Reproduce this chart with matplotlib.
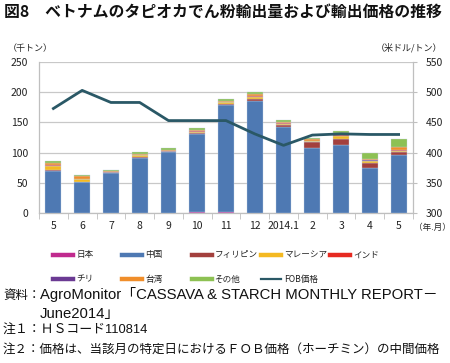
import matplotlib
matplotlib.use("Agg")
import matplotlib.pyplot as plt
from matplotlib.lines import Line2D
import numpy as np

plt.rcParams['font.family'] = ['Noto Sans CJK JP', 'DejaVu Sans']

categories = ['5', '6', '7', '8', '9', '10', '11', '12', '2014.1', '2', '3', '4', '5']
japan       = [0, 0, 0, 0, 0, 1, 1, 0, 0, 0, 0, 0, 0]
china       = [69, 51, 67, 91, 101, 129, 177, 185, 143, 108, 113, 74, 96]
philippines = [3, 1, 1, 2, 2, 2, 3, 4, 3, 9, 9, 8, 5]
malaysia    = [5, 4, 0, 3, 0, 2, 2, 3, 2, 3, 5, 4, 2]
india       = [2, 1, 0, 0, 0, 2, 0, 1, 1, 0, 2, 0, 2]
chile       = [0, 0, 0, 0, 0, 0, 0, 0, 0, 0, 1, 1, 0]
taiwan      = [4, 4, 1, 2, 1, 2, 3, 4, 2, 2, 2, 3, 5]
other       = [3, 2, 2, 3, 3, 3, 3, 4, 3, 3, 3, 9, 12]
fob_price   = [473, 503, 483, 483, 453, 453, 453, 431, 412, 429, 431, 430, 430]

series_names = ['日本', '中国', 'フィリピン', 'マレーシア', 'インド', 'チリ', '台湾', 'その他']
series_vals = [japan, china, philippines, malaysia, india, chile, taiwan, other]
series_colors = ['#C02A8E', '#4E79B3', '#A3403D', '#F4B922', '#E62A21', '#6B3A93', '#F08E2A', '#8DC153']
line_name = 'FOB価格'
line_color = '#2A5866'

W, H = 450, 363
fig = plt.figure(figsize=(W / 100, H / 100), dpi=100)

def fx(px):
    return px / W

def fy(py):
    return 1 - py / H

ax = fig.add_axes([fx(39), fy(213), fx(413) - fx(39), fy(62) - fy(213)])
ax2 = ax.twinx()

x = np.arange(len(categories))
bottom = np.zeros(len(categories))
for name, vals, col in zip(series_names, series_vals, series_colors):
    v = np.array(vals, dtype=float)
    ax.bar(x, v, 0.55, bottom=bottom, color=col, edgecolor='#C5D1E3', linewidth=0.25, zorder=3)
    bottom += v

ax2.plot(x, fob_price, color=line_color, lw=2, zorder=4)

ax.set_xlim(-0.5, len(categories) - 0.5)
ax.set_ylim(0, 250)
ax.set_yticks(range(0, 251, 50))
ax2.set_ylim(300, 550)
ax2.set_yticks(range(300, 551, 50))

ax.yaxis.grid(True, color='#C8C8C8', lw=0.9, zorder=0)
ax.set_axisbelow(True)

ax.set_xticks(x)
ax.set_xticklabels(categories)
ax.set_xticks(np.arange(-0.5, len(categories), 1), minor=True)
ax.tick_params(axis='x', which='major', length=0, pad=6, labelsize=7.5, colors='#222222')
ax.tick_params(axis='x', which='minor', length=4, color='#BFBFBF', direction='out')
ax.tick_params(axis='y', length=0, labelsize=7.5, colors='#222222', pad=8)
ax2.tick_params(axis='y', length=3, labelsize=7.5, colors='#222222', pad=6)
ax2.tick_params(axis='y', color='#BFBFBF')

for a in (ax, ax2):
    a.spines['top'].set_visible(False)
    for s in ('left', 'right', 'bottom'):
        a.spines[s].set_color('#BFBFBF')
        a.spines[s].set_linewidth(0.9)
ax.spines['right'].set_visible(False)
ax2.spines['left'].set_visible(False)
ax2.spines['bottom'].set_visible(False)

# title and unit labels
fig.text(fx(4), fy(12), '図8　ベトナムのタピオカでん粉輸出量および輸出価格の推移',
         fontsize=11.4, fontweight='bold', va='center', ha='left', color='#111111')
fig.text(fx(8), fy(48), '（千トン）', fontsize=6.5, va='center', ha='left', color='#222222')
fig.text(fx(442), fy(48), '（米ドル/トン）', fontsize=6.5, va='center', ha='right', color='#222222')
fig.text(fx(414), fy(227), '（年.月）', fontsize=6.2, va='center', ha='left', color='#222222')

# legend (row-major, equal column spacing)
leg_items = list(zip(series_names, series_colors)) + [(line_name, line_color)]
for i, (name, col) in enumerate(leg_items):
    r, c = divmod(i, 5)
    x0 = 53 + c * 69.3
    yy = 255 + r * 24
    lw = 1.6 if name == line_name else 3.2
    fig.add_artist(Line2D([fx(x0), fx(x0 + 20)], [fy(yy), fy(yy)], color=col, lw=lw,
                          transform=fig.transFigure))
    fig.text(fx(x0 + 23), fy(yy), name, fontsize=6.2, va='center', ha='left', color='#222222')

# footnotes
latin_fam = ['Liberation Sans', 'Noto Sans CJK JP']
cjk_fam = ['Noto Sans CJK JP']
notes = [
    (3, 295, '資料：', cjk_fam, 9),
    (40, 295, 'AgroMonitor「CASSAVA & STARCH MONTHLY REPORT－', latin_fam, 10.7),
    (40, 314, 'June2014」', latin_fam, 10.7),
    (3, 331, '注１：ＨＳコード110814', latin_fam, 9.3),
    (3, 349.5, '注２：価格は、当該月の特定日におけるＦＯＢ価格（ホーチミン）の中間価格', cjk_fam, 9),
]
for px, py, t, fam, fs in notes:
    fig.text(fx(px), fy(py), t, fontsize=fs, va='center', ha='left', color='#111111',
             family=fam)

fig.savefig('out.png', dpi=100)
